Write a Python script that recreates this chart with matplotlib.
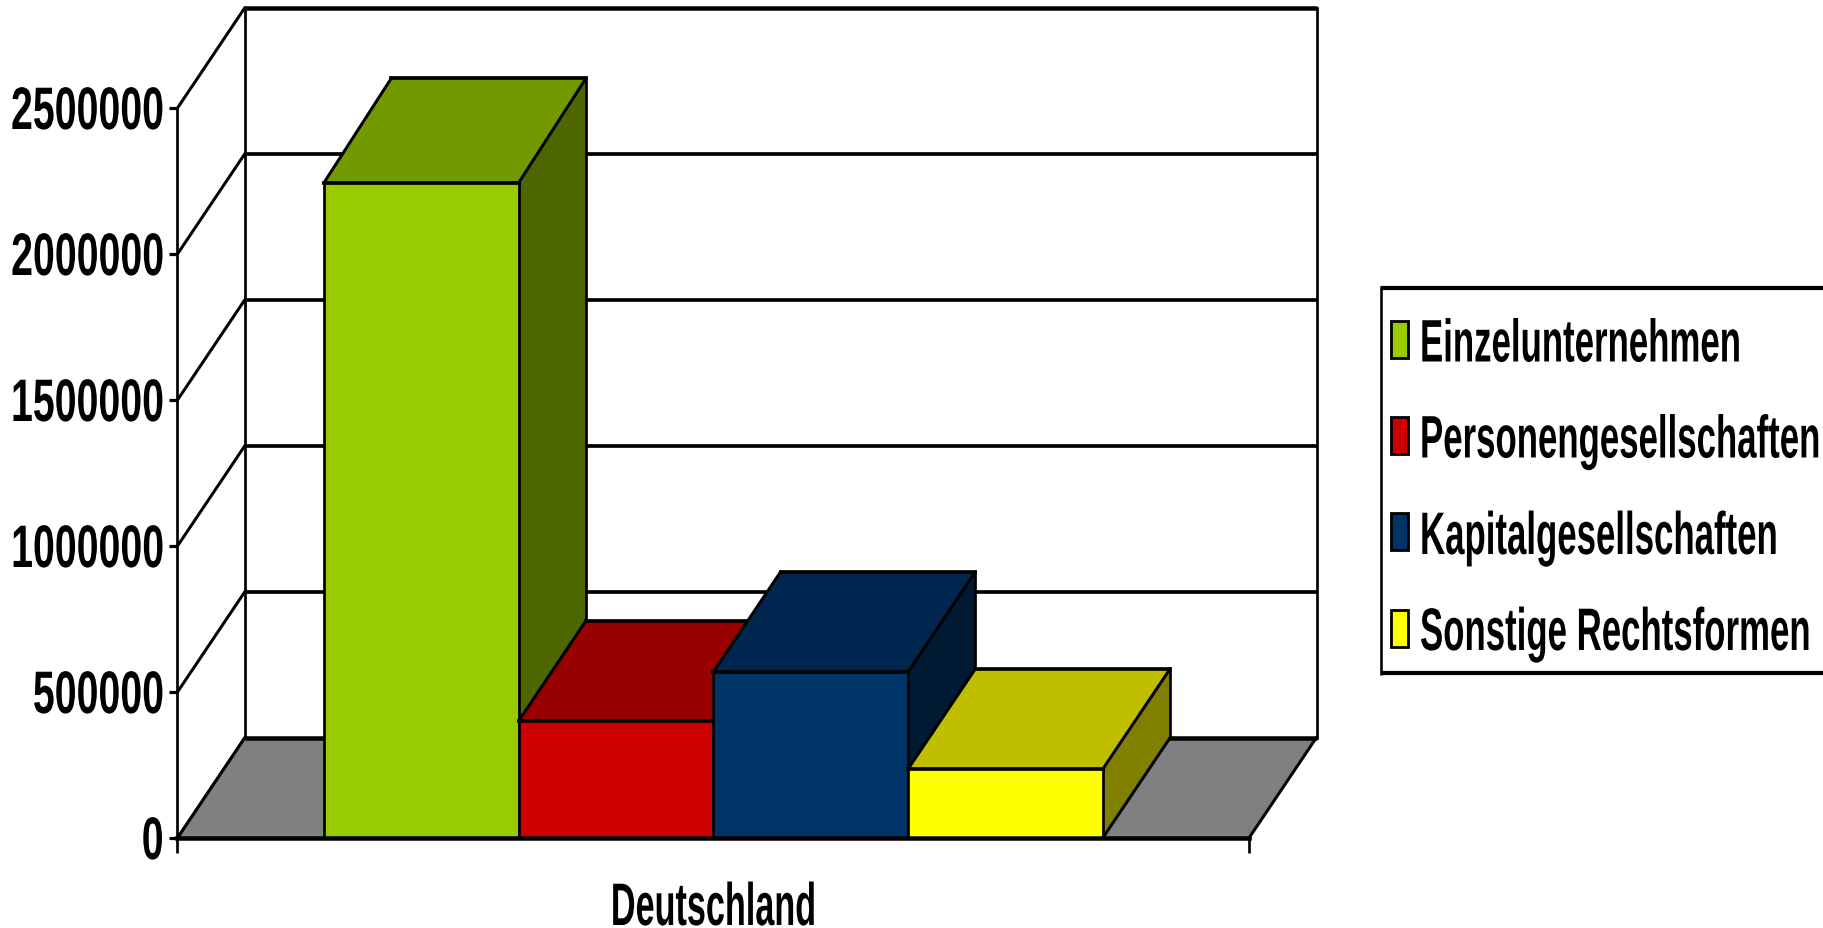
import matplotlib
matplotlib.use("Agg")
import matplotlib.pyplot as plt
from matplotlib.patheffects import AbstractPathEffect
from matplotlib.patches import Polygon, Rectangle
from matplotlib.transforms import Affine2D

# ---- data -------------------------------------------------------------
categories = ["Deutschland"]
series_names = ["Einzelunternehmen", "Personengesellschaften",
                "Kapitalgesellschaften", "Sonstige Rechtsformen"]
series_values = [2243000, 400000, 568000, 236000]
y_ticks = [0, 500000, 1000000, 1500000, 2000000, 2500000]

# ---- style ------------------------------------------------------------
front_colors = ["#99CC00", "#CC0000", "#003366", "#FFFF00"]
top_colors = ["#739900", "#990000", "#002650", "#BFBF00"]
side_colors = ["#4D6600", "#660000", "#001A33", "#808000"]
FLOOR = "#808080"
W, H = 1824, 929
DPI = 100
px = 72 / DPI
AX_L, AX_R, AX_B, AX_T = 177.5, 1249, 839, 109
DEPTH_X_PX, DEPTH_Y_PX = 67.5, 100.5
rise_factor = [1.042, 1, 1, 1]
LW_H, LW_HB, LW_V, LW_D = 3.7 * px, 4.5 * px, 2.7 * px, 3.0 * px
FONT = ["Liberation Sans", "DejaVu Sans"]
# glyphs are tall and narrow: a font size giving the width, stretched to the height
EM_TALL = 60
SX_NUM, SX_LEG, SX_CAT = 0.655, 0.58, 0.57


class StretchY(AbstractPathEffect):
    """Stretch text vertically about its baseline, then shift it by drop pixels."""
    def __init__(self, sy, drop=0):
        super().__init__()
        self.sy, self.drop = sy, drop

    def draw_path(self, renderer, gc, tpath, affine, rgbFace=None):
        t = Affine2D().scale(1, self.sy) + affine + Affine2D().translate(0, -self.drop)
        renderer.draw_path(gc, tpath, t, rgbFace)


fig = plt.figure(figsize=(W / DPI, H / DPI), dpi=DPI, facecolor="white")
ax = fig.add_axes([AX_L / W, 1 - AX_B / H, (AX_R - AX_L) / W, (AX_B - AX_T) / H])
ax.set_xlim(0, 1)
ax.set_ylim(0, y_ticks[-1])
ax.patch.set_visible(False)
for s in ("top", "right"):
    ax.spines[s].set_visible(False)
ax.spines["left"].set_linewidth(LW_V)
ax.spines["bottom"].set_linewidth(LW_HB)
ax.spines["bottom"].set_zorder(50)

dx = DEPTH_X_PX / (AX_R - AX_L)
dy = DEPTH_Y_PX / (AX_B - AX_T) * y_ticks[-1]


def seg(xs, ys, lw, z, cap="projecting"):
    ax.plot(xs, ys, color="black", lw=lw, clip_on=False, zorder=z,
            solid_capstyle=cap)


# walls and gridlines
top = y_ticks[-1]
for v in y_ticks:
    seg([0, dx], [v, v + dy], LW_D, 1, "round")
    if v:
        seg([dx, 1 + dx], [v + dy, v + dy], LW_HB if v == top else LW_H, 1, "butt")
seg([dx, dx], [dy, top + dy], LW_V, 1)
seg([1 + dx, 1 + dx], [dy, top + dy], LW_V, 1)

# floor
ax.add_patch(Polygon([(0, 0), (1, 0), (1 + dx, dy), (dx, dy)], closed=True,
                     fc=FLOOR, ec="none", clip_on=False, zorder=2))
seg([dx, 1 + dx], [dy, dy], LW_HB, 3, "butt")
seg([1, 1 + dx], [0, dy], LW_D, 3, "round")
seg([0, dx], [0, dy], LW_D, 3, "round")

# bars
n = len(series_names)
bar_w = 0.727 / n
x0 = 0.5 - bar_w * n / 2
for i, (val, name) in enumerate(zip(series_values, series_names)):
    z = 10 + 2 * i
    l = x0 + i * bar_w
    r = l + bar_w
    dyi = dy * rise_factor[i]
    ax.bar(l, val, width=bar_w, align="edge", color=front_colors[i], linewidth=0,
           zorder=z, clip_on=False, label=name)
    ax.add_patch(Polygon([(l, val), (r, val), (r + dx, val + dyi), (l + dx, val + dyi)],
                         closed=True, fc=top_colors[i], ec="none", clip_on=False, zorder=z))
    ax.add_patch(Polygon([(r, 0), (r, val), (r + dx, val + dyi), (r + dx, dy)],
                         closed=True, fc=side_colors[i], ec="none", clip_on=False, zorder=z))
    seg([l, r], [val, val], LW_H, z + 1)
    seg([l + dx, r + dx], [val + dyi, val + dyi], LW_H, z + 1)
    seg([l, l], [0, val], LW_V, z + 1)
    seg([r, r], [0, val], LW_V, z + 1)
    seg([r + dx, r + dx], [dy, val + dyi], LW_V, z + 1)
    seg([l, l + dx], [val, val + dyi], LW_D, z + 1, "round")
    seg([r, r + dx], [val, val + dyi], LW_D, z + 1, "round")
    seg([r, r + dx], [0, dy], LW_D, z + 1, "round")

# axes, ticks, labels
ax.set_yticks(y_ticks, labels=[str(v) for v in y_ticks])
ax.tick_params(axis="y", length=7.6 * px, width=3.2 * px, pad=6.4 * px,
               labelsize=EM_TALL * SX_NUM * px)
ax.set_xticks([0, 1], labels=["", ""])
ax.tick_params(axis="x", which="major", length=15 * px, width=LW_V)
ax.set_xticks([0.5], labels=categories, minor=True)
ax.tick_params(axis="x", which="minor", length=0, pad=48 * px,
               labelsize=EM_TALL * SX_CAT * px)
for t in ax.get_yticklabels():
    t.set_fontfamily(FONT)
    t.set_fontweight("bold")
    t.set_verticalalignment("baseline")
    t.set_path_effects([StretchY(1 / SX_NUM, 21)])
for t in ax.get_xticklabels(minor=True):
    t.set_fontfamily(FONT)
    t.set_fontweight("bold")
    t.set_path_effects([StretchY(1 / SX_CAT, 15)])

# legend, laid out in figure pixels
ov = fig.add_axes([0, 0, 1, 1], zorder=100)
ov.set_xlim(0, W)
ov.set_ylim(H, 0)
ov.axis("off")
ov.plot([1381, W + 5], [289, 289], color="black", lw=4.2 * px, solid_capstyle="butt")
ov.plot([1381, W + 5], [673.5, 673.5], color="black", lw=4.2 * px, solid_capstyle="butt")
ov.plot([1381, 1381], [287, 675.5], color="black", lw=2.6 * px, solid_capstyle="butt")
swatch_tops = [322, 418, 514, 611]
baselines = [362.5, 458.5, 555, 651]
for name, c, st, b in zip(series_names, front_colors, swatch_tops, baselines):
    ov.add_patch(Rectangle((1391.5, st), 17, 37, fc=c, ec="black", lw=2.8 * px))
    ov.text(1420, b, name, fontsize=EM_TALL * SX_LEG * px, family=FONT, fontweight="bold",
            ha="left", va="baseline", path_effects=[StretchY(1 / SX_LEG)])

fig.savefig("out.png", dpi=DPI, facecolor="white")
